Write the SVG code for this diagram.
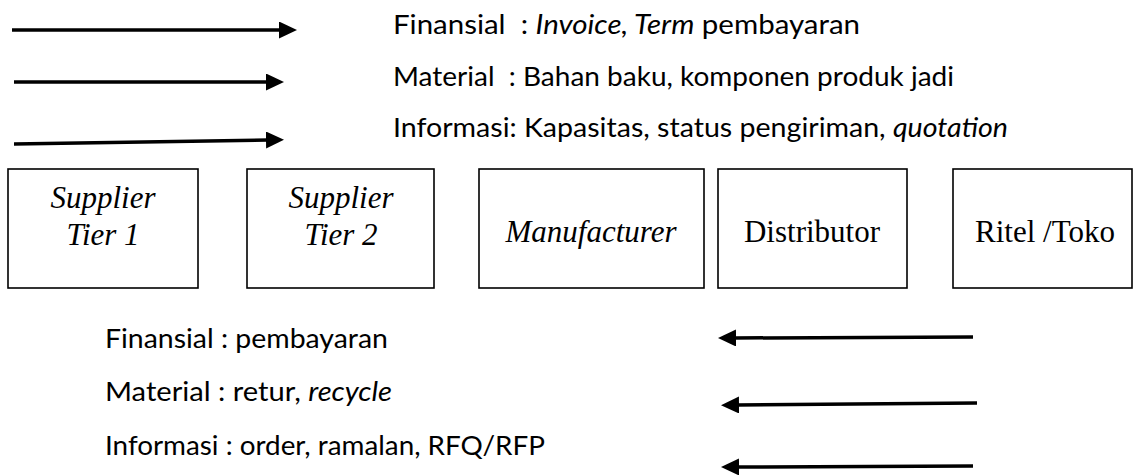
<svg xmlns="http://www.w3.org/2000/svg" width="1134" height="475" viewBox="0 0 1134 475">
  <style>
    .box { fill: #ffffff; stroke: #000000; stroke-width: 1.6; }
    .flow { fill: none; stroke: #000000; stroke-width: 3.5; marker-end: url(#head); }
    .node-text { font-family: "Liberation Serif", "Times New Roman", serif; font-size: 31px; fill: #000000; text-anchor: middle; }
    .it { font-style: italic; }
    .legend { font-family: Lato, "Open Sans", "DejaVu Sans", sans-serif; font-size: 27.5px; fill: #000000; }
  </style>
  <defs>
    <marker id="head" markerUnits="userSpaceOnUse" viewBox="0 0 18 17" markerWidth="18" markerHeight="17" refX="2" refY="8.5" orient="auto">
      <path d="M0,0 L18,8.5 L0,17 z" fill="#000000"/>
    </marker>
  </defs>
  <rect width="1134" height="475" fill="#ffffff"/>

  <!-- flow arrows: downstream on top, upstream below -->
  <g id="connectors">
    <path class="flow" d="M12,30 L281,30"/>
    <path class="flow" d="M14,82 L268,82"/>
    <path class="flow" d="M14,144 L268,140"/>
    <path class="flow" d="M973,337 L734,338"/>
    <path class="flow" d="M977,403 L737,405"/>
    <path class="flow" d="M973,466 L737,467"/>
  </g>

  <!-- flow descriptions -->
  <g id="legend-forward" class="legend">
    <text x="393" y="34" textLength="467" lengthAdjust="spacingAndGlyphs">Finansial&#160; : <tspan class="it">Invoice, Term</tspan> pembayaran</text>
    <text x="393" y="86" textLength="561" lengthAdjust="spacingAndGlyphs">Material&#160; : Bahan baku, komponen produk jadi</text>
    <text x="393" y="137" textLength="615" lengthAdjust="spacingAndGlyphs">Informasi: Kapasitas, status pengiriman, <tspan class="it">quotation</tspan></text>
  </g>
  <g id="legend-reverse" class="legend">
    <text x="105" y="348" textLength="283" lengthAdjust="spacingAndGlyphs">Finansial : pembayaran</text>
    <text x="105" y="401" textLength="287" lengthAdjust="spacingAndGlyphs">Material : retur, <tspan class="it">recycle</tspan></text>
    <text x="105" y="455" textLength="440" lengthAdjust="spacingAndGlyphs">Informasi : order, ramalan, RFQ/RFP</text>
  </g>

  <!-- supply chain members -->
  <g id="supplier-tier-1">
    <rect class="box" x="8" y="169" width="190" height="119"/>
    <text class="node-text it" x="103" y="208">Supplier</text>
    <text class="node-text it" x="103" y="245">Tier 1</text>
  </g>
  <g id="supplier-tier-2">
    <rect class="box" x="247" y="169" width="187" height="119"/>
    <text class="node-text it" x="341" y="208">Supplier</text>
    <text class="node-text it" x="341" y="245">Tier 2</text>
  </g>
  <g id="manufacturer">
    <rect class="box" x="479" y="169" width="225" height="119"/>
    <text class="node-text it" x="591" y="242">Manufacturer</text>
  </g>
  <g id="distributor">
    <rect class="box" x="718" y="169" width="189" height="119"/>
    <text class="node-text" x="812" y="242">Distributor</text>
  </g>
  <g id="ritel-toko">
    <rect class="box" x="953" y="169" width="179" height="119"/>
    <text class="node-text" x="1045" y="242">Ritel /Toko</text>
  </g>
</svg>
